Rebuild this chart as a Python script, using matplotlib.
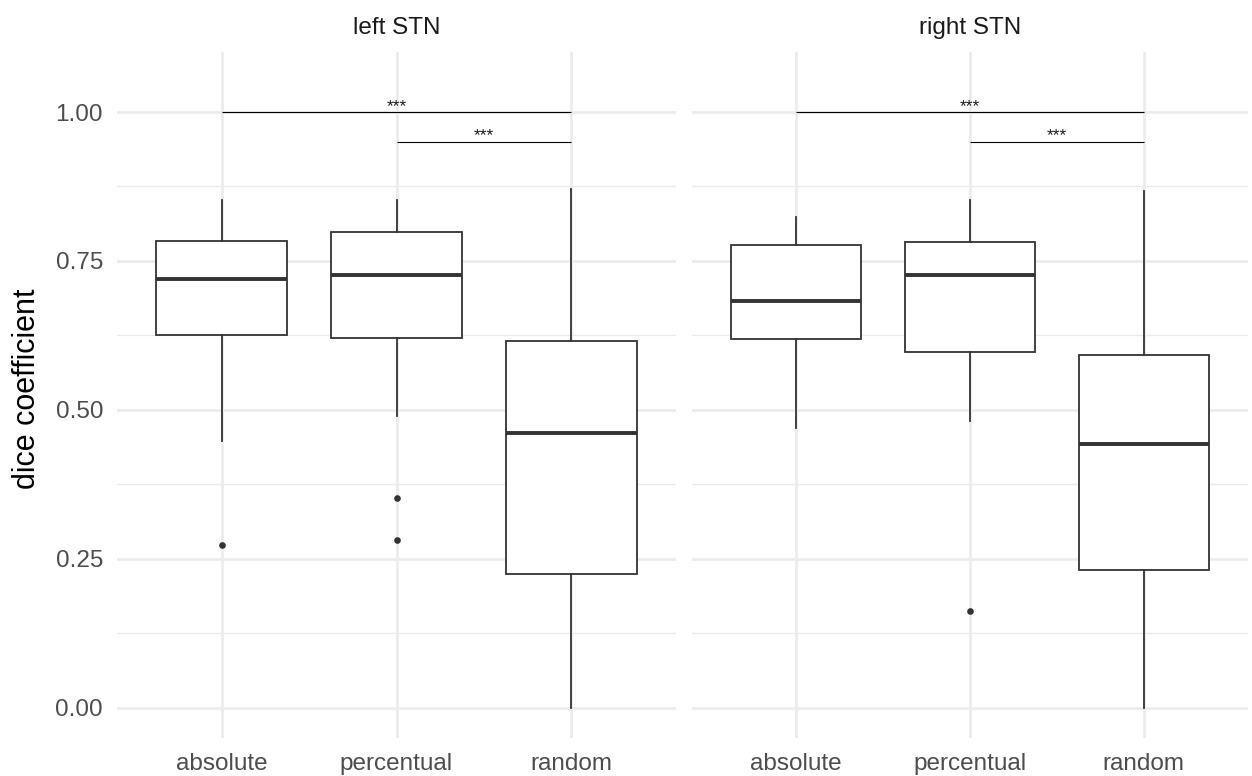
import matplotlib
matplotlib.use("Agg")
import matplotlib.pyplot as plt
import numpy as np

plt.rcParams['font.family'] = ['Liberation Sans', 'DejaVu Sans']

# ---- data ----
facets = ["left STN", "right STN"]
categories = ["absolute", "percentual", "random"]

# per facet, per category: lower whisker, Q1, median, Q3, upper whisker
left_whislo = [0.448, 0.490, 0.000]
left_q1     = [0.626, 0.620, 0.225]
left_med    = [0.719, 0.726, 0.462]
left_q3     = [0.783, 0.798, 0.616]
left_whishi = [0.852, 0.853, 0.871]
left_fliers = [[0.274], [0.353, 0.282], []]

right_whislo = [0.470, 0.481, 0.000]
right_q1     = [0.619, 0.597, 0.232]
right_med    = [0.683, 0.727, 0.443]
right_q3     = [0.776, 0.782, 0.593]
right_whishi = [0.823, 0.852, 0.868]
right_fliers = [[], [0.163], []]

# significance brackets: (from category, to category, y, label)
sig_from = ["absolute", "percentual"]
sig_to = ["random", "random"]
sig_y = [1.00, 0.95]
sig_label = ["***", "***"]

y_ticks = [0.00, 0.25, 0.50, 0.75, 1.00]
y_minor = [0.125, 0.375, 0.625, 0.875]

facet_data = [
    (left_whislo, left_q1, left_med, left_q3, left_whishi, left_fliers),
    (right_whislo, right_q1, right_med, right_q3, right_whishi, right_fliers),
]

W, H = 1252, 776
fig = plt.figure(figsize=(W / 100, H / 100), dpi=100)
fig.patch.set_facecolor("white")

bottom = 1 - 738 / H
top = 1 - 52 / H
panels = [(117, 676), (692, 1248)]

grid_col = "#EBEBEB"
box_col = "#333333"

axes = []
for i, (x0, x1) in enumerate(panels):
    ax = fig.add_axes([x0 / W, bottom, (x1 - x0) / W, top - bottom])
    axes.append(ax)
    wlo, q1, med, q3, whi, fl = facet_data[i]
    stats = []
    for k, c in enumerate(categories):
        stats.append(dict(label=c, whislo=wlo[k], q1=q1[k], med=med[k],
                          q3=q3[k], whishi=whi[k], fliers=fl[k]))
    pos = np.arange(1, len(categories) + 1)
    ax.bxp(stats, positions=pos, widths=0.75, showcaps=False,
           patch_artist=True,
           boxprops=dict(facecolor="white", edgecolor=box_col, linewidth=1.3),
           whiskerprops=dict(color=box_col, linewidth=1.3),
           medianprops=dict(color=box_col, linewidth=2.8, solid_capstyle="butt"),
           flierprops=dict(marker="o", markersize=4.8, markerfacecolor=box_col,
                           markeredgecolor=box_col, markeredgewidth=0),
           zorder=3)

    # significance brackets
    for f, t, yv, lab in zip(sig_from, sig_to, sig_y, sig_label):
        xa = categories.index(f) + 1
        xb = categories.index(t) + 1
        ax.plot([xa, xb], [yv, yv], color="black", linewidth=0.8, zorder=4,
                solid_capstyle="butt")
        ax.text((xa + xb) / 2, yv + 0.002, lab, ha="center", va="baseline",
                fontsize=12.5, color="#1A1A1A", zorder=5)

    ax.set_xlim(0.4, 3.6)
    ax.set_ylim(-0.0505, 1.1007)
    ax.set_xticks(pos)
    ax.set_xticklabels(categories)
    ax.set_yticks(y_ticks)
    ax.set_yticks(y_minor, minor=True)
    if i == 0:
        ax.set_yticklabels([f"{v:.2f}" for v in y_ticks])
    else:
        ax.set_yticklabels([])
    ax.grid(True, which="major", axis="both", color=grid_col, linewidth=1.9, zorder=0)
    ax.grid(True, which="minor", axis="y", color=grid_col, linewidth=1.0, zorder=0)
    ax.set_axisbelow(True)
    for s in ax.spines.values():
        s.set_visible(False)
    ax.tick_params(axis="both", which="both", length=0, labelsize=17.5,
                   labelcolor="#4D4D4D")
    ax.tick_params(axis="x", pad=11)
    ax.tick_params(axis="y", pad=10)
    ax.text(0.5, 1.035, facets[i], transform=ax.transAxes, ha="center",
            va="center", fontsize=17.5, color="#1A1A1A")

fig.text(27 / W, 1 - 389 / H, "dice coefficient", rotation=90, ha="center",
         va="center", fontsize=22, color="black")

fig.savefig("out.png", dpi=100, facecolor="white")
